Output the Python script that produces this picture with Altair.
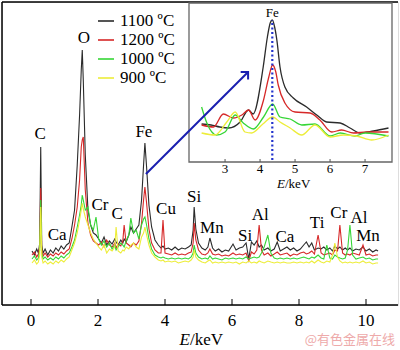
import altair as alt
import pandas as pd

# ---------------- main spectrum (E in keV, intensity in arbitrary counts) ----------------
energy = [
    0.03, 0.10, 0.17, 0.22, 0.26, 0.29, 0.32, 0.36, 0.42, 0.50,
    0.58, 0.66, 0.74, 0.82, 0.90, 0.98, 1.06, 1.14, 1.22, 1.30,
    1.38, 1.45, 1.50, 1.53, 1.56, 1.62, 1.70, 1.78, 1.86, 1.94,
    2.02, 2.10, 2.18, 2.26, 2.34, 2.42, 2.50, 2.54, 2.60, 2.68,
    2.74, 2.78, 2.84, 2.92, 2.98, 3.06, 3.14, 3.22, 3.30, 3.36,
    3.40, 3.45, 3.52, 3.60, 3.70, 3.80, 3.88, 3.94, 4.00, 4.10,
    4.20, 4.30, 4.40, 4.50, 4.60, 4.70, 4.78, 4.84, 4.87, 4.92,
    5.00, 5.10, 5.20, 5.28, 5.34, 5.42, 5.50, 5.60, 5.70, 5.80,
    5.90, 6.03, 6.12, 6.22, 6.32, 6.42, 6.50, 6.58, 6.66, 6.74,
    6.81, 6.88, 6.96, 7.07, 7.16, 7.26, 7.35, 7.44, 7.54, 7.64,
    7.74, 7.84, 7.94, 8.04, 8.14, 8.22, 8.30, 8.38, 8.46, 8.57,
    8.66, 8.74, 8.83, 8.92, 9.00, 9.07, 9.15, 9.22, 9.30, 9.38,
    9.45, 9.52, 9.60, 9.70, 9.80, 9.91, 10.00, 10.10, 10.20, 10.30,
    10.36,
]
i1100 = [
    54, 50, 56, 52, 62, 158, 60, 52, 56, 50,
    55, 52, 57, 54, 59, 56, 60, 62, 78, 95,
    140, 190, 235, 255, 225, 150, 95, 80, 72, 70,
    66, 62, 68, 60, 64, 61, 66, 63, 60, 65,
    62, 66, 63, 70, 78, 72, 76, 80, 105, 140,
    162, 138, 100, 78, 65, 60, 57, 59, 56, 57,
    55, 58, 55, 57, 56, 58, 60, 75, 98, 76,
    62, 57, 55, 58, 67, 57, 54, 56, 53, 55,
    54, 61, 55, 57, 58, 62, 46, 63, 60, 64,
    58, 60, 55, 57, 54, 56, 63, 54, 56, 58,
    55, 57, 54, 56, 60, 63, 58, 62, 55, 57,
    56, 58, 55, 57, 54, 59, 56, 58, 55, 57,
    55, 57, 54, 56, 55, 58, 54, 56, 53, 55,
    54,
]
i1200 = [
    50, 53, 48, 51, 58, 117, 56, 49, 52, 48,
    51, 49, 52, 50, 53, 51, 54, 56, 66, 80,
    98, 125, 158, 165, 168, 115, 82, 70, 64, 62,
    60, 63, 58, 65, 60, 58, 62, 57, 61, 59,
    64, 80, 62, 60, 58, 62, 60, 64, 82, 105,
    118, 102, 76, 62, 55, 52, 52, 85, 52, 51,
    50, 52, 50, 51, 50, 52, 53, 62, 82, 65,
    55, 51, 50, 52, 56, 51, 50, 51, 49, 50,
    49, 52, 50, 51, 50, 52, 44, 53, 51, 55,
    80, 55, 50, 52, 49, 51, 53, 50, 51, 52,
    49, 51, 50, 52, 53, 51, 52, 54, 51, 70,
    52, 50, 51, 52, 50, 55, 54, 80, 52, 50,
    51, 50, 52, 51, 50, 60, 50, 51, 49, 50,
    50,
]
i1000 = [
    46, 49, 45, 47, 55, 105, 52, 46, 48, 45,
    47, 45, 48, 46, 49, 47, 50, 52, 58, 65,
    78, 90, 100, 110, 105, 95, 98, 80, 75, 88,
    66, 60, 64, 58, 62, 56, 60, 55, 58, 62,
    60, 58, 64, 70, 87, 72, 75, 66, 80, 86,
    88, 80, 66, 56, 50, 48, 47, 48, 47, 46,
    47, 46, 47, 46, 47, 46, 48, 52, 60, 52,
    48, 46, 47, 46, 49, 46, 47, 46, 45, 47,
    46, 47, 46, 47, 46, 48, 46, 47, 48, 47,
    48, 52, 58, 70, 52, 47, 46, 47, 46, 47,
    46, 47, 46, 47, 48, 47, 46, 48, 47, 50,
    47, 46, 60, 47, 46, 50, 48, 47, 46, 47,
    55, 80, 50, 46, 47, 48, 46, 47, 45, 46,
    46,
]
i900 = [
    42, 45, 41, 43, 50, 98, 48, 42, 44, 41,
    43, 41, 44, 42, 45, 43, 46, 48, 55, 62,
    72, 85, 95, 102, 96, 88, 80, 72, 66, 62,
    58, 55, 60, 52, 56, 54, 58, 78, 54, 52,
    55, 54, 58, 56, 60, 62, 58, 56, 68, 72,
    78, 70, 60, 52, 48, 45, 44, 45, 43, 44,
    43, 44, 42, 43, 44, 43, 45, 48, 55, 48,
    45, 43, 42, 44, 45, 42, 43, 42, 43, 42,
    43, 42, 43, 41, 43, 42, 44, 42, 43, 42,
    44, 43, 42, 44, 43, 42, 43, 42, 43, 42,
    42, 43, 42, 43, 42, 43, 42, 44, 42, 45,
    43, 42, 44, 43, 50, 62, 48, 44, 42, 43,
    42, 43, 42, 43, 42, 44, 42, 43, 41, 42,
    42,
]

series_names = ["1100 ºC", "1200 ºC", "1000 ºC", "900 ºC"]
series_colors = ["#2b2b2b", "#d62828", "#36d636", "#eded3a"]

# ---------------- inset (Fe region, magnified) ----------------
ins_e_1100 = [2.33, 2.6, 2.85, 3.1, 3.43, 3.67, 3.8, 4.09, 4.21, 4.29, 4.35, 4.41,
              4.48, 4.57, 4.71, 4.95, 5.33, 5.62, 5.9, 6.29, 6.57, 6.86, 7.24, 7.67]
ins_v_1100 = [38, 37, 35, 34, 40, 52, 48, 95, 125, 139, 142, 136,
              122, 95, 75, 64, 55, 47, 40, 39, 34, 29, 31, 34]
ins_e_1200 = [2.33, 2.67, 2.95, 3.24, 3.48, 3.67, 3.86, 4.1, 4.25, 4.36, 4.45,
              4.52, 4.71, 5.0, 5.43, 5.71, 6.05, 6.33, 6.67, 7.05, 7.67]
ins_v_1200 = [37, 35, 48, 44, 47, 52, 42, 62, 85, 97, 90,
              77, 59, 50, 49, 42, 30, 32, 29, 30, 30]
ins_e_1000 = [2.33, 2.48, 2.76, 3.0, 3.29, 3.52, 3.81, 4.1, 4.36, 4.57, 4.86,
              5.19, 5.57, 6.0, 6.29, 6.71, 7.0, 7.67]
ins_v_1000 = [55, 39, 27, 30, 47, 39, 33, 45, 58, 45, 43,
              37, 38, 26, 29, 26, 29, 26]
ins_e_900 = [2.33, 2.71, 3.05, 3.29, 3.57, 3.76, 4.08, 4.36, 4.57, 4.86,
             5.19, 5.57, 6.0, 6.38, 6.76, 7.19, 7.67]
ins_v_900 = [29, 27, 40, 50, 30, 29, 38, 45, 40, 34,
             27, 37, 25, 27, 26, 22, 27]

# ---------------- annotations ----------------
peak_labels = ["C", "O", "Fe", "Ca", "Cr", "C", "Cu", "Si", "Mn", "Si",
               "Al", "Ca", "Ti", "Cr", "Al", "Mn"]
peak_label_e = [0.27, 1.58, 3.37, 0.78, 2.06, 2.57, 4.03, 4.87, 5.40, 6.39,
                6.84, 7.58, 8.54, 9.19, 9.79, 10.06]
peak_label_i = [171, 267, 173, 70, 100, 91, 96, 108, 77, 69,
                90, 68, 82, 92, 87, 69]
main_ticks = [0, 2, 4, 6, 8, 10]
inset_ticks = [3, 4, 5, 6, 7]
fe_line_e = 4.35
arrow_e = [3.43, 6.48]
arrow_i = [131, 233]

SERIF = "Liberation Serif"
W, H = 396, 303

X_MAIN = alt.Scale(domain=[-0.866, 10.955], nice=False, zero=False)
Y_MAIN = alt.Scale(domain=[0, 303], nice=False, zero=False)
X_INS = alt.Scale(domain=[1.97, 7.77], range=[187, 390], nice=False, zero=False)
Y_INS = alt.Scale(domain=[0, 159], range=[160, 1], nice=False, zero=False)
COLOR = alt.Scale(domain=series_names, range=series_colors)
LEG = alt.Legend(orient="none", legendX=95, legendY=10, title=None,
                 symbolType="stroke", symbolSize=256, symbolStrokeWidth=2,
                 symbolOpacity=0.8, labelFont=SERIF, labelFontSize=17,
                 labelColor="black", labelOffset=5, rowPadding=2, padding=0)

main_vals = [i1100, i1200, i1000, i900]
main_layers = []
for name, vals in zip(series_names, main_vals):
    df = pd.DataFrame({"E": energy, "I": vals, "series": name})
    main_layers.append(
        alt.Chart(df).mark_line(strokeWidth=1.1).encode(
            x=alt.X("E:Q", scale=X_MAIN, axis=None),
            y=alt.Y("I:Q", scale=Y_MAIN, axis=None),
            color=alt.Color("series:N", scale=COLOR, legend=LEG),
        )
    )

one = pd.DataFrame({"a": [0]})
# frame: top, left, bottom (axis) lines
top_line = alt.Chart(one).mark_rule(color="black", strokeWidth=1.5).encode(
    x=alt.value(0), x2=alt.value(W), y=alt.value(0))
left_line = alt.Chart(one).mark_rule(color="black", strokeWidth=1.5).encode(
    x=alt.value(0), y=alt.value(0), y2=alt.value(H))
bottom_line = alt.Chart(one).mark_rule(color="black", strokeWidth=1.5).encode(
    x=alt.value(0), x2=alt.value(W), y=alt.value(H))

# inward ticks and tick labels of the main energy axis
tick_df = pd.DataFrame({"t": main_ticks})
main_tick_marks = alt.Chart(tick_df).mark_rule(color="black", strokeWidth=1).encode(
    x=alt.X("t:Q", scale=X_MAIN, axis=None), y=alt.value(H), y2=alt.value(H - 6))
main_tick_labels = alt.Chart(tick_df).mark_text(font=SERIF, fontSize=17, color="black",
                                               baseline="middle").encode(
    x=alt.X("t:Q", scale=X_MAIN, axis=None), y=alt.value(H + 16), text="t:Q")

lab_df = pd.DataFrame({"lab": peak_labels, "E": peak_label_e, "I": peak_label_i})
peak_text = alt.Chart(lab_df).mark_text(font=SERIF, fontSize=17, color="black",
                                        baseline="middle", align="center").encode(
    x=alt.X("E:Q", scale=X_MAIN, axis=None),
    y=alt.Y("I:Q", scale=Y_MAIN, axis=None),
    text="lab:N")

title_e = alt.Chart(one).mark_text(text="E", font=SERIF, fontSize=17, fontStyle="italic",
                                   align="right", baseline="middle", color="black").encode(
    x=alt.value(188), y=alt.value(338))
title_kev = alt.Chart(one).mark_text(text="/keV", font=SERIF, fontSize=17,
                                     align="left", baseline="middle", color="black").encode(
    x=alt.value(188), y=alt.value(338))
watermark = alt.Chart(one).mark_text(text="@有色金属在线", font="Noto Sans CJK SC", fontSize=13,
                                     align="right", baseline="middle", color="#eeaaaa").encode(
    x=alt.value(393), y=alt.value(338))

main = alt.layer(*main_layers, top_line, left_line, bottom_line, main_tick_marks,
                 main_tick_labels, peak_text, title_e, title_kev, watermark)

# ---------------- inset layers ----------------
box_df = pd.DataFrame({"e0": [1.97], "e1": [7.77], "v0": [0], "v1": [159]})
inset_box = alt.Chart(box_df).mark_rect(fill="white", stroke="#666666", strokeWidth=1.3).encode(
    x=alt.X("e0:Q", scale=X_INS, axis=None), x2="e1:Q",
    y=alt.Y("v0:Q", scale=Y_INS, axis=None), y2="v1:Q")

ins_pairs = [(ins_e_1100, ins_v_1100), (ins_e_1200, ins_v_1200),
             (ins_e_1000, ins_v_1000), (ins_e_900, ins_v_900)]
inset_lines = []
for name, (es, vs) in zip(series_names, ins_pairs):
    df = pd.DataFrame({"E": es, "v": vs, "series": name})
    inset_lines.append(
        alt.Chart(df).mark_line(strokeWidth=1.3, interpolate="monotone").encode(
            x=alt.X("E:Q", scale=X_INS, axis=None),
            y=alt.Y("v:Q", scale=Y_INS, axis=None),
            color=alt.Color("series:N", scale=COLOR, legend=LEG),
        )
    )

fe_df = pd.DataFrame({"E": [fe_line_e], "v0": [2], "v1": [142], "lab": ["Fe"], "vl": [149]})
fe_rule = alt.Chart(fe_df).mark_rule(color="#2233cc", strokeWidth=2.2, strokeDash=[2, 2.5]).encode(
    x=alt.X("E:Q", scale=X_INS, axis=None),
    y=alt.Y("v0:Q", scale=Y_INS, axis=None), y2="v1:Q")
fe_text = alt.Chart(fe_df).mark_text(font=SERIF, fontSize=13, color="black", baseline="middle").encode(
    x=alt.X("E:Q", scale=X_INS, axis=None),
    y=alt.Y("vl:Q", scale=Y_INS, axis=None), text="lab:N")

itick_df = pd.DataFrame({"t": inset_ticks})
inset_tick_labels = alt.Chart(itick_df).mark_text(font=SERIF, fontSize=13, color="black",
                                                 baseline="middle").encode(
    x=alt.X("t:Q", scale=X_INS, axis=None), y=alt.value(167), text="t:Q")
inset_tick_marks = alt.Chart(itick_df).mark_rule(color="#555555", strokeWidth=1).encode(
    x=alt.X("t:Q", scale=X_INS, axis=None), y=alt.value(160), y2=alt.value(157))
ititle_e = alt.Chart(one).mark_text(text="E", font=SERIF, fontSize=13, fontStyle="italic",
                                    align="right", baseline="middle", color="black").encode(
    x=alt.value(283), y=alt.value(182))
ititle_kev = alt.Chart(one).mark_text(text="/keV", font=SERIF, fontSize=13,
                                      align="left", baseline="middle", color="black").encode(
    x=alt.value(283), y=alt.value(182))

inset = alt.layer(inset_box, *inset_lines, fe_rule, fe_text, inset_tick_marks,
                  inset_tick_labels, ititle_e, ititle_kev)

# ---------------- arrow from the main Fe peak to the inset (drawn on top) ----------------
arrow_df = pd.DataFrame({"E": arrow_e, "I": arrow_i})
arrow_line = alt.Chart(arrow_df).mark_line(color="#1a1fb0", strokeWidth=2).encode(
    x=alt.X("E:Q", scale=X_MAIN, axis=None), y=alt.Y("I:Q", scale=Y_MAIN, axis=None))
arrow_head = alt.Chart(arrow_df.iloc[[1]]).mark_point(
    shape="M-1,1L0,0L1,1", filled=False, color="#1a1fb0", strokeWidth=2,
    size=110, angle=45, opacity=1).encode(
    x=alt.X("E:Q", scale=X_MAIN, axis=None), y=alt.Y("I:Q", scale=Y_MAIN, axis=None))
arrow = alt.layer(arrow_line, arrow_head)

chart = alt.layer(main, inset, arrow).resolve_scale(x="independent", y="independent").properties(
    width=W, height=H,
    padding={"left": 2, "top": 2, "right": 2, "bottom": 45},
    autosize=alt.AutoSizeParams(type="none"),
).configure_view(stroke=None).configure(background="white")

chart.save("out.html", embed_options={"renderer": "svg", "actions": False})
